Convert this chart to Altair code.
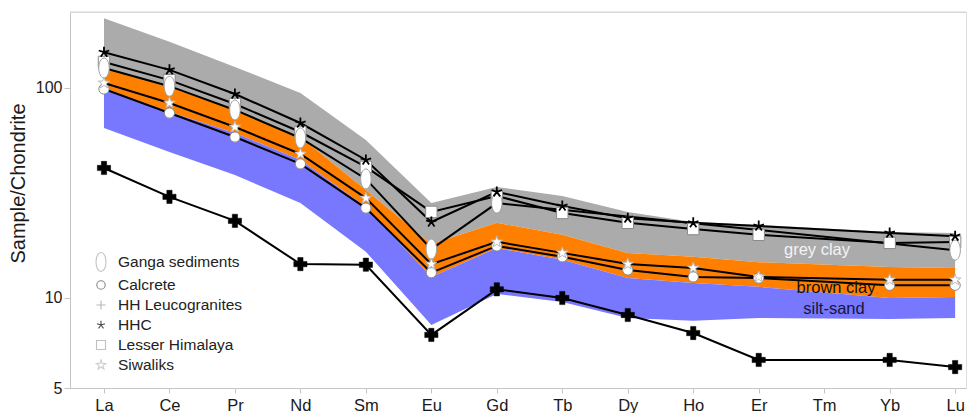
import altair as alt
import pandas as pd

elements = ["La", "Ce", "Pr", "Nd", "Sm", "Eu", "Gd", "Tb", "Dy", "Ho", "Er", "Tm", "Yb", "Lu"]
band_elements = ["La", "Ce", "Pr", "Nd", "Sm", "Eu", "Gd", "Tb", "Dy", "Ho", "Er", "Yb", "Lu"]

grey_top = [215, 166, 126, 94.7, 56.5, 28.3, 33.8, 30.6, 25.7, 23.0, 22.3, 20.6, 20.4]
grey_bottom = [126, 101, 78.6, 58.4, 32.7, 18.1, 22.8, 20.0, 16.4, 15.7, 14.8, 14.05, 13.9]
orange_bottom = [100, 76.9, 61.1, 45.4, 27.1, 12.6, 17.3, 15.2, 12.45, 11.8, 11.3, 10.0, 10.1]
blue_bottom = [64.5, 49.6, 38.5, 28.3, 16.6, 7.44, 10.45, 9.57, 8.03, 7.8, 8.03, 7.95, 8.03]

ganga_elements = ["La", "Ce", "Pr", "Nd", "Sm", "Eu", "Gd", "Lu"]
ganga = [124.5, 102, 78.6, 57.8, 36.9, 17.1, 28.3, 16.9]
hhc = [148, 122, 93.6, 68.1, 45.4, 23.0, 32.0, 27.4, 24.0, 22.8, 22.0, 20.4, 19.7]
lesser = [133, 109, 83.9, 61.7, 42.1, 25.7, 30.6, 25.4, 22.8, 21.3, 20.0, 18.3, 18.5]
siwaliks = [105.6, 84.8, 65.2, 48.5, 29.9, 14.5, 18.5, 16.4, 14.5, 13.9, 12.6, 12.2, 12.2]
calcrete = [98.9, 76.0, 58.4, 43.5, 26.8, 13.2, 17.7, 15.7, 13.6, 12.6, 12.45, 11.5, 11.5]
leuco = [41.6, 30.3, 23.3, 14.5, 14.4, 6.67, 11.0, 10.0, 8.30, 6.81, 5.07, 5.07, 4.69]

legend_names = ["Ganga sediments", "Calcrete", "HH Leucogranites", "HHC", "Lesser Himalaya", "Siwaliks"]

band_labels = ["grey clay", "brown clay", "silt-sand"]
band_label_x = [10.89, 11.18, 11.15]
band_label_y = [16.9, 11.2, 8.9]
band_label_colors = ["#f4f4f4", "#111111", "#15153a"]

# ---- shapes ----
ELLIPSE = ("M0,-0.95C0.276,-0.95 0.5,-0.525 0.5,0C0.5,0.525 0.276,0.95 0,0.95"
           "C-0.276,0.95 -0.5,0.525 -0.5,0C-0.5,-0.525 -0.276,-0.95 0,-0.95Z")
CIRCLE = "M0.42,0A0.42,0.42 0 1,1 -0.42,0A0.42,0.42 0 1,1 0.42,0Z"
PLUS = "M-0.45,0L0.45,0M0,-0.45L0,0.45"
ASTER = ("M0,0L0,-0.42M0,0L0.4,-0.13M0,0L0.247,0.34M0,0L-0.247,0.34M0,0L-0.4,-0.13")
SQUARE = "M-0.45,-0.45L0.45,-0.45L0.45,0.45L-0.45,0.45Z"
STAR = ("M0,-0.5L0.1176,-0.1618L0.4755,-0.1545L0.1902,0.0618L0.2939,0.4045L0,0.2"
        "L-0.2939,0.4045L-0.1902,0.0618L-0.4755,-0.1545L-0.1176,-0.1618Z")
ASTER_BIG = ("M0,0L0,-1M0,0L0.951,-0.309M0,0L0.588,0.809M0,0L-0.588,0.809M0,0L-0.951,-0.309")

idx = {e: i for i, e in enumerate(elements)}

bands = pd.DataFrame({
    "el": band_elements,
    "i": [idx[e] for e in band_elements],
    "grey_top": grey_top,
    "grey_bottom": grey_bottom,
    "orange_bottom": orange_bottom,
    "blue_bottom": blue_bottom,
})

def series_frame(name, els, vals):
    return pd.DataFrame({"series": name, "el": els, "i": [idx[e] for e in els], "v": vals})

series_data = {
    "HH Leucogranites": series_frame("HH Leucogranites", band_elements, leuco),
    "Calcrete": series_frame("Calcrete", band_elements, calcrete),
    "Siwaliks": series_frame("Siwaliks", band_elements, siwaliks),
    "Ganga sediments": series_frame("Ganga sediments", ganga_elements, ganga),
    "Lesser Himalaya": series_frame("Lesser Himalaya", band_elements, lesser),
    "HHC": series_frame("HHC", band_elements, hhc),
}
all_series = pd.concat(list(series_data.values()), ignore_index=True)

W, H = 896, 376
label_expr = "[" + ",".join("'%s'" % e for e in elements) + "][datum.value]"

x_axis = alt.Axis(values=list(range(len(elements))), labelExpr=label_expr, title=None,
                  grid=False, tickSize=5, labelPadding=4, labelFontSize=16.5,
                  domainColor="#c4c4c4", tickColor="#c4c4c4", labelColor="#1a1a1a",
                  labelFont="Liberation Sans")
y_axis = alt.Axis(values=[3.728, 10, 100],
                  labelExpr="datum.value < 5 ? '5' : format(datum.value, 'd')",
                  title="Sample/Chondrite", titleFontSize=20, titleFontWeight="normal",
                  titleFont="Liberation Sans", titleColor="#1a1a1a",
                  titleX=-42, titleY=171, titleAngle=270, titleBaseline="bottom",
                  titleAlign="center",
                  grid=False, tickSize=6, labelPadding=2, labelFontSize=16,
                  domainColor="#c4c4c4", tickColor="#c4c4c4", labelColor="#1a1a1a",
                  labelFont="Liberation Sans")
x_scale = alt.Scale(domain=[-0.519, 13.166], nice=False, zero=False)
y_scale = alt.Scale(type="log", domain=[3.728, 230], nice=False)

def X(field="i"):
    return alt.X(f"{field}:Q", scale=x_scale, axis=x_axis)

def Y(field):
    return alt.Y(f"{field}:Q", scale=y_scale, axis=y_axis)

base_b = alt.Chart(bands)
grey = base_b.mark_area(color="#ababab").encode(x=X(), y=Y("grey_top"), y2="grey_bottom:Q")
orange = base_b.mark_area(color="#ff8000").encode(x=X(), y=Y("grey_bottom"), y2="orange_bottom:Q")
blue = base_b.mark_area(color="#7878ff").encode(x=X(), y=Y("orange_bottom"), y2="blue_bottom:Q")

lines = alt.Chart(all_series).mark_line(color="black", strokeWidth=2).encode(
    x=X(), y=Y("v"), detail="series:N", order="i:Q")

def pts(name, **kw):
    return alt.Chart(series_data[name]).mark_point(opacity=1, **kw).encode(x=X(), y=Y("v"))

m_lh = pts("Lesser Himalaya", shape="square", size=130, filled=True, fill="white",
           stroke="#8a8a8a", strokeWidth=1)
m_ganga = pts("Ganga sediments", shape=ELLIPSE, size=440, filled=True, fill="white",
              stroke="#a0a0a0", strokeWidth=1)
m_calc = pts("Calcrete", shape="circle", size=105, filled=True, fill="white",
             stroke="#8a8a8a", strokeWidth=1)
m_siw = pts("Siwaliks", shape=STAR, size=576, filled=True, fill="white",
            stroke="#b8b8b8", strokeWidth=1)
m_hhc = pts("HHC", shape=ASTER_BIG, size=121, filled=False, stroke="black", strokeWidth=1.8)
m_leuco = pts("HH Leucogranites", shape="cross", size=175, filled=True, fill="black",
              stroke="black", strokeWidth=0.5)

labels_df = pd.DataFrame({"t": band_labels, "i": band_label_x, "v": band_label_y,
                          "c": band_label_colors})
band_text = alt.Chart(labels_df).mark_text(fontSize=16.5, font="Liberation Sans").encode(
    x=X(), y=Y("v"), text="t:N", color=alt.Color("c:N", scale=None))

# legend (built from a clipped, off-domain layer so only the legend shows)
legend_df = pd.DataFrame({"series": legend_names, "i": 0.0, "v": 1.0})
leg_common = dict(title=None, orient="none", legendX=20, legendY=239, symbolSize=400,
                  labelFontSize=15.5, labelFont="Liberation Sans", labelColor="#222222",
                  labelOffset=6, rowPadding=0, symbolStrokeWidth=1.1, padding=0)
legend_layer = alt.Chart(legend_df).mark_point(clip=True, size=400, filled=True).encode(
    x=X(), y=Y("v"),
    shape=alt.Shape("series:N", scale=alt.Scale(domain=legend_names,
                    range=[ELLIPSE, CIRCLE, PLUS, ASTER, SQUARE, STAR]),
                    legend=alt.Legend(**leg_common)),
    fill=alt.Fill("series:N", scale=alt.Scale(domain=legend_names,
                  range=["white", "white", "transparent", "transparent", "white", "white"]),
                  legend=alt.Legend(**leg_common)),
    stroke=alt.Stroke("series:N", scale=alt.Scale(domain=legend_names,
                      range=["#a8a8a8", "#555555", "#999999", "#000000", "#a8a8a8", "#b8b8b8"]),
                      legend=alt.Legend(**leg_common)),
)

top_border = alt.Chart(pd.DataFrame({"a": [0]})).mark_rule(color="#d4d4d4", strokeWidth=1).encode(
    x=alt.value(0), x2=alt.value(W), y=alt.value(0))

chart = alt.layer(
    grey, orange, blue, lines, m_lh, m_ganga, m_calc, m_siw, m_hhc, m_leuco,
    band_text, legend_layer, top_border
).properties(
    width=W, height=H,
    autosize=alt.AutoSizeParams(type="none"),
    padding={"left": 62, "top": 4, "right": 2, "bottom": 25},
).configure_view(stroke=None).configure(font="Liberation Sans")

chart.save("out.html", embed_options={"renderer": "svg", "actions": False})
